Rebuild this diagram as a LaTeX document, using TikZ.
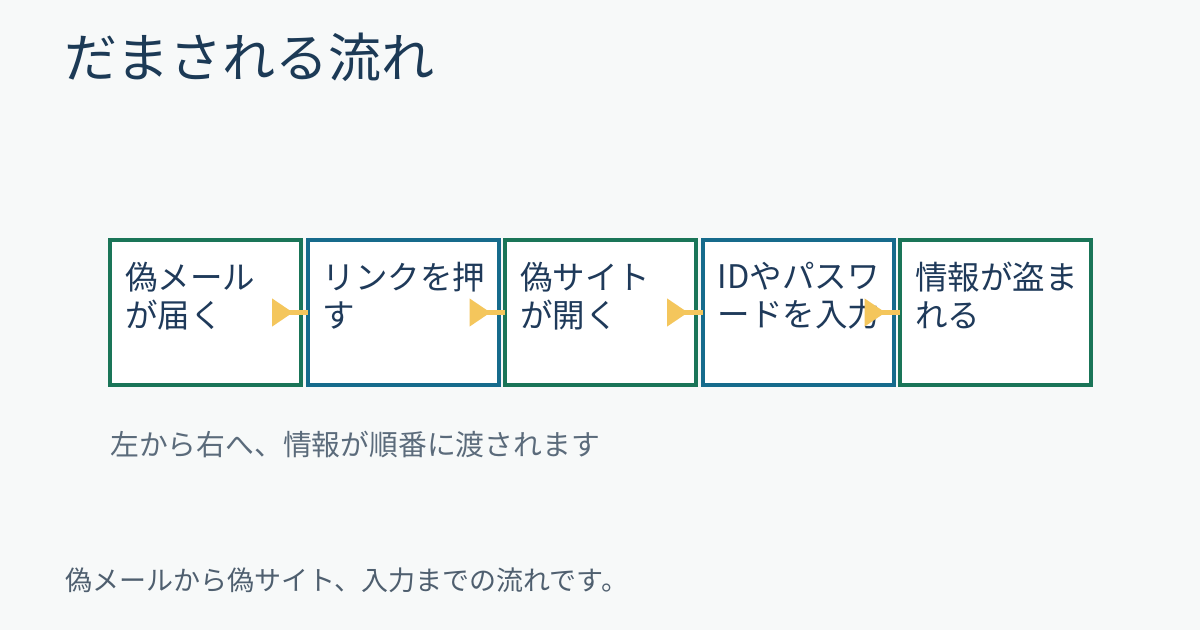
\documentclass[tikz,border=0pt]{standalone}
\usepackage{fontspec}
\setmainfont{Noto Sans CJK JP}
\usetikzlibrary{arrows.meta}
\definecolor{bg}{HTML}{F7F9F9}
\definecolor{titlec}{HTML}{1C3A56}
\definecolor{textc}{HTML}{1F3A5A}
\definecolor{capc}{HTML}{5B6B7B}
\definecolor{footc}{HTML}{4F5F6F}
\definecolor{greenb}{HTML}{1A7558}
\definecolor{blueb}{HTML}{166B8C}
\definecolor{arrowc}{HTML}{F4C65C}
\tikzset{
  stepbox/.style={draw, line width=4pt, fill=white, minimum width=191pt, minimum height=145pt, inner sep=0pt, outer sep=0pt, anchor=north west},
  greenbox/.style={stepbox, draw=greenb},
  bluebox/.style={stepbox, draw=blueb},
  boxtext/.style={anchor=north west, inner sep=0pt, align=left, text=textc, font=\fontsize{32.5}{38}\selectfont},
  flowarrow/.style={draw=arrowc, line width=4.5pt, {Triangle[reversed, length=21pt, width=27pt, fill=arrowc]}-},
}
\begin{document}
\begin{tikzpicture}[x=1pt,y=-1pt]
\useasboundingbox (0,0) rectangle (1200,630);
\fill[bg] (0,0) rectangle (1200,630);
\node[anchor=base west, inner sep=0pt, text=titlec, font=\fontsize{53}{55}\selectfont] (title) at (64,77) {だまされる流れ};

\node[greenbox] (b1) at (110,240) {};
\node[bluebox]  (b2) at (307.5,240) {};
\node[greenbox] (b3) at (505,240) {};
\node[bluebox]  (b4) at (702.5,240) {};
\node[greenbox] (b5) at (900,240) {};

\node[boxtext] (t1) at (125,262) {偽メール\\が届く};
\node[boxtext] (t2) at (322.5,262) {リンクを押\\す};
\node[boxtext] (t3) at (520,262) {偽サイト\\が開く};
\node[boxtext] (t4) at (717.5,262) {IDやパスワ\\ードを入力};
\node[boxtext] (t5) at (915,262) {情報が盗ま\\れる};

\foreach \a/\b in {b1/b2,b2/b3,b3/b4,b4/b5}{
  \draw[flowarrow] ([xshift=-29pt,yshift=-72.5pt]\a.north east) -- ([yshift=-72.5pt]\b.north west);
}

\node[anchor=base west, inner sep=0pt, text=capc, font=\fontsize{28.8}{30}\selectfont] (cap) at (110,455) {左から右へ、情報が順番に渡されます};
\node[anchor=base west, inner sep=0pt, text=footc, font=\fontsize{27}{28}\selectfont] (foot) at (65,590) {偽メールから偽サイト、入力までの流れです。};
\end{tikzpicture}
\end{document}
